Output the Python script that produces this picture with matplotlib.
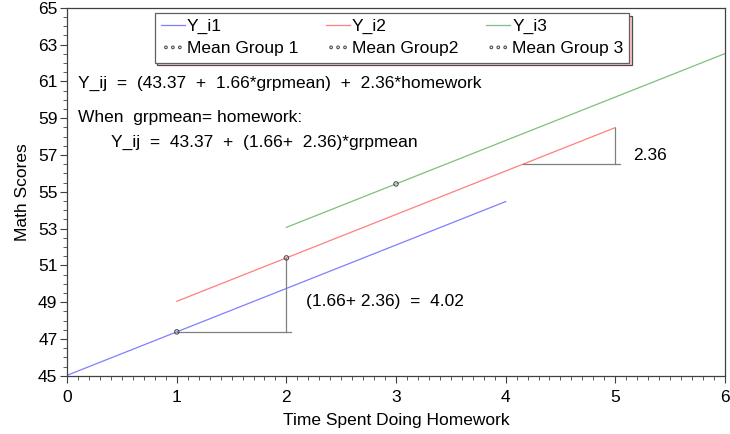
import numpy as np
import matplotlib
matplotlib.use("Agg")
import matplotlib.pyplot as plt
from matplotlib.ticker import MultipleLocator

plt.rcParams['font.family'] = ['Liberation Sans', 'DejaVu Sans']

# model: Y_ij = 43.37 + 1.66*grpmean + 2.36*homework
intercept = 43.37
b_grp = 1.66
b_hw = 2.36

group_means = [1, 2, 3]
x_start = [0, 1, 2]
x_end = [4, 5, 6]
line_labels = ["Y_i1", "Y_i2", "Y_i3"]
mean_labels = ["Mean Group 1", "Mean Group2", "Mean Group 3"]
colors = ["#7f7fff", "#ff7f7f", "#7fbf7f"]

# slope triangles
tri_y = 56.5          # horizontal leg for the within-group slope
tri_x2 = 5

fig, ax = plt.subplots(figsize=(7.3, 4.34), dpi=100)
fig.subplots_adjust(left=0.092, right=0.993, bottom=0.134, top=0.982)

handles = []
for g, xs, xe, lab, col in zip(group_means, x_start, x_end, line_labels, colors):
    xx = np.array([xs, xe])
    yy = intercept + b_grp * g + b_hw * xx
    ln, = ax.plot(xx, yy, color=col, lw=0.9, label=lab)
    handles.append(ln)

mean_y = [intercept + (b_grp + b_hw) * g for g in group_means]
for g, my, lab in zip(group_means, mean_y, mean_labels):
    sc = ax.scatter([g], [my], s=10, facecolor="none", edgecolor="#505050",
                    linewidths=0.8, zorder=3, label=lab)
    handles.append(sc)

grey = "#808080"
# between-group triangle: mean 1 -> mean 2
ax.plot([group_means[0], group_means[1] + 0.04], [mean_y[0], mean_y[0]], color=grey, lw=0.9)
ax.plot([group_means[1], group_means[1]], [mean_y[0], mean_y[1]], color=grey, lw=0.9)
# within-group triangle on the second line
y_top = intercept + b_grp * group_means[1] + b_hw * tri_x2
x_cross = (tri_y - intercept - b_grp * group_means[1]) / b_hw
ax.plot([x_cross, tri_x2 + 0.04], [tri_y, tri_y], color=grey, lw=0.9)
ax.plot([tri_x2, tri_x2], [tri_y, y_top], color=grey, lw=0.9)

fs = 12.5
ax.text(0.1, 60.9, "Y_ij  =  (43.37  +  1.66*grpmean)  +  2.36*homework",
        fontsize=fs, va="center")
ax.text(0.1, 59.05, "When  grpmean= homework:", fontsize=fs, va="center")
ax.text(0.4, 57.7, "Y_ij  =  43.37  +  (1.66+  2.36)*grpmean", fontsize=fs, va="center")
ax.text(5.16, 56.95, "2.36", fontsize=fs, va="center")
ax.text(2.18, 49.05, "(1.66+ 2.36)  =  4.02", fontsize=fs, va="center")

order = [handles[0], handles[3], handles[1], handles[4], handles[2], handles[5]]
leg = ax.legend(handles=order, ncol=3, loc="upper left", bbox_to_anchor=(0.133, 0.986),
                fontsize=12.5, frameon=True, fancybox=False, edgecolor="#606060",
                shadow={"facecolor": "#ffc8d0", "alpha": 1.0},
                handlelength=1.4, handletextpad=0.1, columnspacing=1.6,
                labelspacing=0.4, borderpad=0.35, scatterpoints=3,
                scatteryoffsets=[0.5], markerscale=0.6, borderaxespad=0)
leg.get_frame().set_linewidth(0.9)

ax.set_xlim(0, 6)
ax.set_ylim(45, 65)
ax.xaxis.set_major_locator(MultipleLocator(1))
ax.xaxis.set_minor_locator(MultipleLocator(0.1))
ax.yaxis.set_major_locator(MultipleLocator(2))
ax.yaxis.set_minor_locator(MultipleLocator(0.5))
ax.tick_params(axis="both", which="major", labelsize=12.5, length=5, width=0.8, color="#404040")
ax.tick_params(axis="both", which="minor", length=3, width=0.6, color="#404040")
ax.tick_params(axis="x", pad=5)
ax.tick_params(axis="y", pad=2)
ax.set_yticks(np.arange(45, 66, 2))
for sp in ax.spines.values():
    sp.set_color("#404040")
    sp.set_linewidth(0.9)

ax.set_xlabel("Time Spent Doing Homework", fontsize=12.5, labelpad=6)
ax.set_ylabel("Math Scores", fontsize=12.5, labelpad=6)

fig.savefig("out.png", dpi=100)
